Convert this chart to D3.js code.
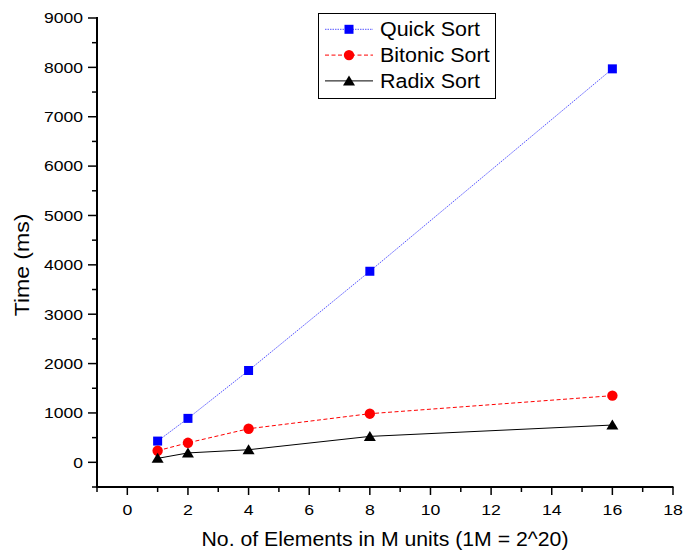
<!DOCTYPE html>
<html lang="en">
<head>
<meta charset="utf-8">
<title>Sort timings</title>
<script src="https://cdn.jsdelivr.net/npm/d3@7"></script>
<style>
  html, body { margin: 0; padding: 0; background: white; }
  svg { display: block; font-family: "Liberation Sans", Arial, sans-serif; }
</style>
</head>
<body>
<script>
// data
var sizes = [1, 2, 4, 8, 16];
var quickSort = [430, 890, 1860, 3870, 7970];
var bitonicSort = [235, 395, 680, 985, 1350];
var radixSort = [80, 190, 255, 525, 755];
var seriesNames = ["Quick Sort", "Bitonic Sort", "Radix Sort"];
var xTicks = [0, 2, 4, 6, 8, 10, 12, 14, 16, 18];
var yTicks = [0, 1000, 2000, 3000, 4000, 5000, 6000, 7000, 8000, 9000];

var w = 684, h = 554;

var x = d3.scaleLinear().domain([-1, 18]).range([97, 673]);
var y = d3.scaleLinear().domain([-500, 9000]).range([487, 18]);

var svg = d3.select("body").append("svg")
  .attr("width", w)
  .attr("height", h);

var series = [
  { name: seriesNames[0], values: quickSort, color: "#0000ff", line: "#5555ff", dash: "1.5,1", shape: "square" },
  { name: seriesNames[1], values: bitonicSort, color: "#ff0000", line: "#ff0000", dash: "4,2.5", shape: "circle" },
  { name: seriesNames[2], values: radixSort, color: "#000000", line: "#000000", dash: null, shape: "triangle" }
];

// the original text is a bit wider than it is tall, so stretch it sideways
function label(g, tx, ty, str, size, sx, anchor, rot) {
  return g.append("text")
    .attr("transform", "translate(" + tx + "," + ty + ")" + (rot ? " rotate(" + rot + ")" : "") + " scale(" + sx + ",1)")
    .attr("text-anchor", anchor)
    .attr("font-size", size + "px")
    .text(str);
}

// axes
var xMinor = d3.range(-1, 19, 1);
var yMinor = d3.range(-500, 9001, 500);

var xAxis = svg.append("g").attr("transform", "translate(0," + 487 + ")");
xAxis.append("line").attr("x1", 97).attr("x2", 673.5).attr("stroke", "black").attr("stroke-width", 2);
xAxis.selectAll("line.tick").data(xMinor).enter().append("line")
  .attr("class", "tick")
  .attr("x1", function(d) { return x(d); })
  .attr("x2", function(d) { return x(d); })
  .attr("y1", 0)
  .attr("y2", function(d) { return d % 2 === 0 ? 8 : 5; })
  .attr("stroke", "black").attr("stroke-width", 1.5);
xTicks.forEach(function(d) {
  label(xAxis, x(d), 28, d, 15, 1.18, "middle");
});

var yAxis = svg.append("g").attr("transform", "translate(97,0)");
yAxis.append("line").attr("y1", 17).attr("y2", 488).attr("stroke", "black").attr("stroke-width", 2);
yAxis.selectAll("line.tick").data(yMinor).enter().append("line")
  .attr("class", "tick")
  .attr("y1", function(d) { return y(d); })
  .attr("y2", function(d) { return y(d); })
  .attr("x1", 0)
  .attr("x2", function(d) { return d % 1000 === 0 ? -9 : -5; })
  .attr("stroke", "black").attr("stroke-width", 1.5);
yTicks.forEach(function(d) {
  label(yAxis, -14, y(d) + 5.3, d, 15, 1.17, "end");
});

// axis titles
label(svg, 385, 546, "No. of Elements in M units (1M = 2^20)", 19.5, 1.09, "middle");
label(svg, 29, 265, "Time (ms)", 20, 1.15, "middle", -90);

// markers
function drawMarker(g, shape, color, cx, cy) {
  if (shape === "square") {
    g.append("rect").attr("x", cx - 4.5).attr("y", cy - 4.5)
      .attr("width", 9).attr("height", 9).attr("fill", color);
  } else if (shape === "circle") {
    g.append("circle").attr("cx", cx).attr("cy", cy).attr("r", 5.2).attr("fill", color);
  } else {
    g.append("path")
      .attr("d", "M" + cx + "," + (cy - 5.5) + "L" + (cx + 6) + "," + (cy + 4.5) + "L" + (cx - 6) + "," + (cy + 4.5) + "Z")
      .attr("fill", color);
  }
}

var line = d3.line()
  .x(function(d, i) { return x(sizes[i]); })
  .y(function(d) { return y(d); });

series.forEach(function(s) {
  var g = svg.append("g");
  g.append("path")
    .attr("d", line(s.values))
    .attr("fill", "none")
    .attr("stroke", s.line)
    .attr("stroke-width", 1)
    .attr("stroke-dasharray", s.dash);
  s.values.forEach(function(v, i) {
    drawMarker(g, s.shape, s.color, x(sizes[i]), y(v));
  });
});

// legend
var legend = svg.append("g");
legend.append("rect")
  .attr("x", 318.5).attr("y", 13.5)
  .attr("width", 177).attr("height", 85)
  .attr("fill", "white").attr("stroke", "black").attr("stroke-width", 1);

series.forEach(function(s, i) {
  var ly = 29.3 + i * 25.8;
  legend.append("line")
    .attr("x1", 325).attr("x2", 373)
    .attr("y1", ly).attr("y2", ly)
    .attr("stroke", s.line).attr("stroke-width", 1)
    .attr("stroke-dasharray", s.dash);
  drawMarker(legend, s.shape, s.color, 349, ly);
  label(legend, 380, ly + 6.7, s.name, 19.5, 1.1, "start");
});
</script>
</body>
</html>
